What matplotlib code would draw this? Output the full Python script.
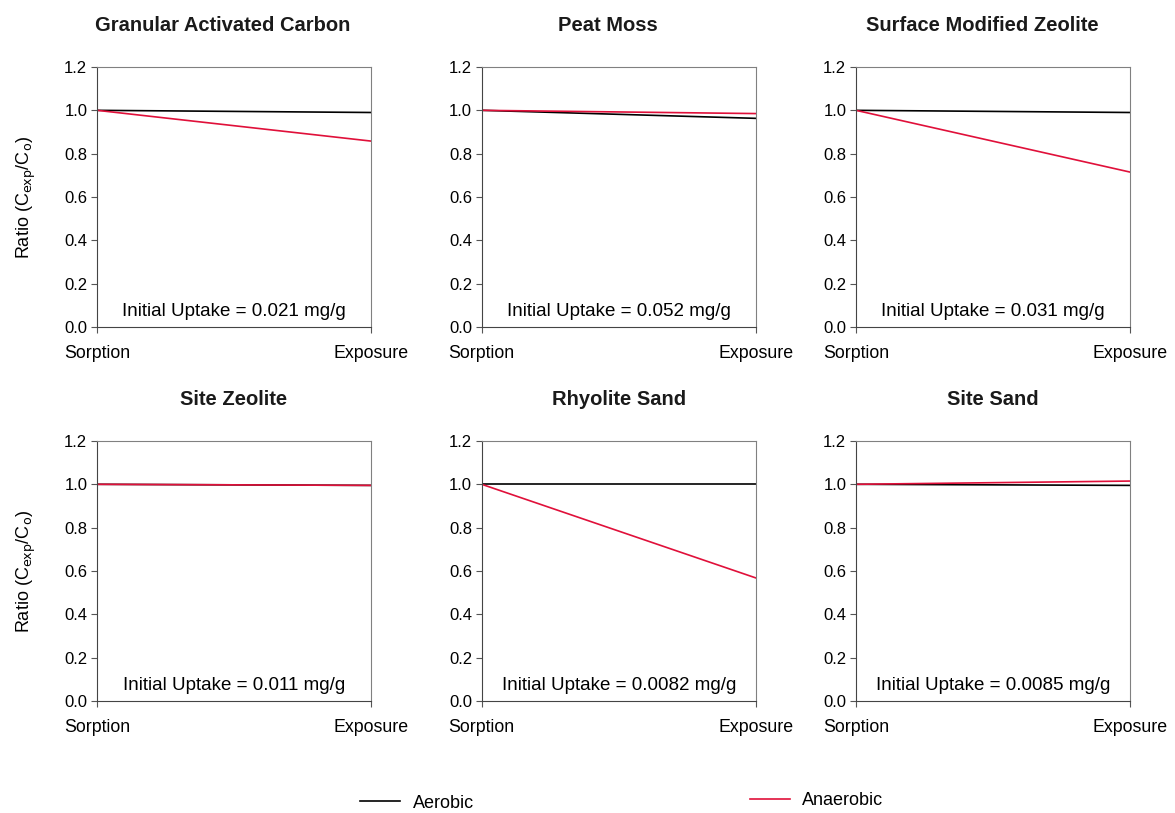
import numpy as np
import matplotlib
matplotlib.use("Agg")
from matplotlib import pyplot as plt
from matplotlib.lines import Line2D

plt.rcParams['font.family'] = ['Liberation Sans', 'DejaVu Sans']

# data
stages = ['Sorption', 'Exposure']
materials = ['Granular Activated Carbon', 'Peat Moss', 'Surface Modified Zeolite',
             'Site Zeolite', 'Rhyolite Sand', 'Site Sand']
aerobic_end = [0.99, 0.963, 0.99, 0.995, 1.0, 0.995]
anaerobic_end = [0.858, 0.985, 0.715, 0.995, 0.568, 1.015]
uptake = ['0.021', '0.052', '0.031', '0.011', '0.0082', '0.0085']

fig = plt.figure(figsize=(11.75, 8.13), dpi=100)

lefts = [0.0826, 0.410, 0.7285]
bottoms = [0.5978, 0.1378]
w, h = 0.2332, 0.3198

for i, name in enumerate(materials):
    r, c = divmod(i, 3)
    ax = fig.add_axes([lefts[c], bottoms[r], w, h])
    x = np.arange(len(stages))
    ax.plot(x, [1.0, aerobic_end[i]], color='black', lw=1.2)
    ax.plot(x, [1.0, anaerobic_end[i]], color='#e0103a', lw=1.2)
    ax.set_xlim(0, 1)
    ax.set_ylim(0, 1.2)
    ax.set_yticks(np.arange(0, 1.21, 0.2))
    ax.set_yticklabels(['%.1f' % v for v in np.arange(0, 1.21, 0.2)], fontsize=12)
    ax.set_xticks(x)
    ax.set_xticklabels(stages, fontsize=12.8)
    ax.tick_params(direction='out', length=4, color='#555555', pad=3)
    ax.tick_params(axis='x', pad=9)
    for s in ax.spines.values():
        s.set_color('#808080')
    ax.spines['left'].set_color('#444444')
    ax.spines['bottom'].set_color('#444444')
    tx = 0.46 if r == 0 else 0.5
    ax.set_title(name, fontsize=14.5, fontweight='bold', pad=26, color='#1a1a1a', x=tx)
    ax.text(0.5, 0.06, 'Initial Uptake = %s mg/g' % uptake[i], transform=ax.transAxes,
            ha='center', va='center', fontsize=13.5)
    if c == 0:
        ax.set_ylabel(r'Ratio (C$_{\mathrm{exp}}$/C$_{\mathrm{o}}$)', fontsize=13, labelpad=19)

h1 = Line2D([], [], color='black', lw=1.2)
h2 = Line2D([], [], color='#e0103a', lw=1.2)
fig.legend([h1], ['Aerobic'], loc='center', bbox_to_anchor=(0.355, 0.012),
           frameon=False, fontsize=13, handlelength=2.2, handletextpad=0.7)
fig.legend([h2], ['Anaerobic'], loc='center', bbox_to_anchor=(0.695, 0.015),
           frameon=False, fontsize=13, handlelength=2.2, handletextpad=0.7)

fig.savefig('out.png', dpi=100)
